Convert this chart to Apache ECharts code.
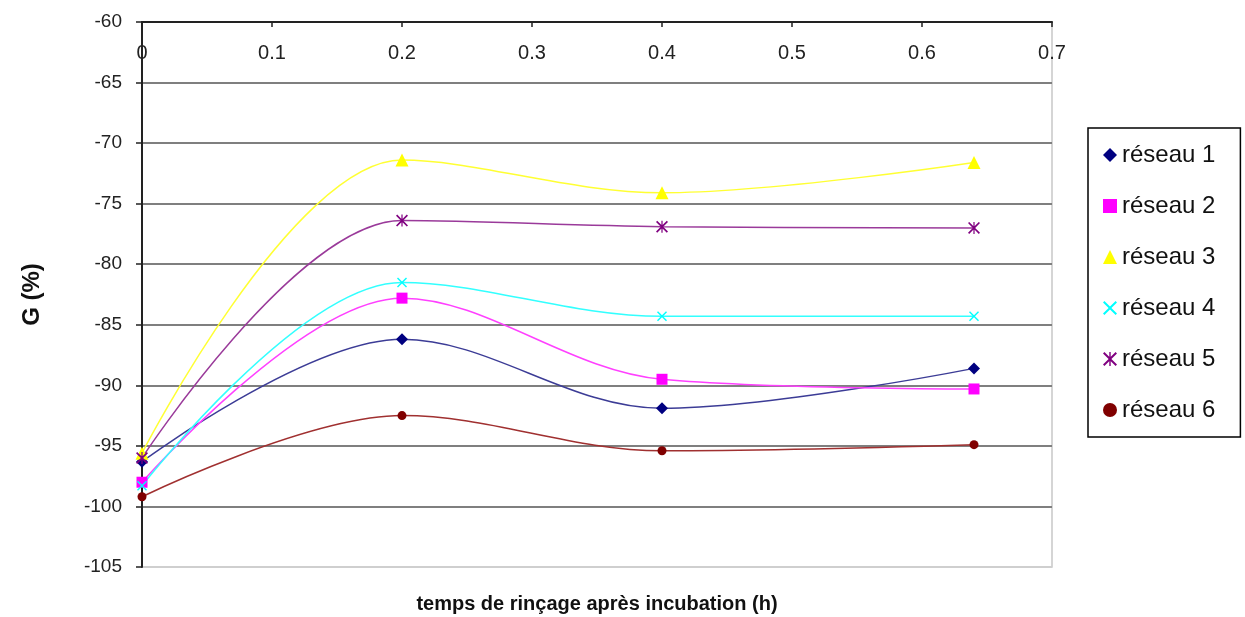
<!DOCTYPE html>
<html>
<head>
<meta charset="utf-8">
<script src="https://cdn.jsdelivr.net/npm/echarts@6/dist/echarts.min.js"></script>
<style>
html,body{margin:0;padding:0;background:#fff;}
#chart{width:1245px;height:617px;}
</style>
</head>
<body>
<div id="chart"></div>
<script>
// x positions (h)
const xValues = [0, 0.2, 0.4, 0.64];
const seriesNames = ['réseau 1', 'réseau 2', 'réseau 3', 'réseau 4', 'réseau 5', 'réseau 6'];
const reseau1 = [-96.3, -86.2, -91.9, -88.6];
const reseau2 = [-98.0, -82.8, -89.5, -90.3];
const reseau3 = [-95.6, -71.4, -74.1, -71.6];
const reseau4 = [-98.3, -81.5, -84.3, -84.3];
const reseau5 = [-96.0, -76.4, -76.9, -77.0];
const reseau6 = [-99.2, -92.5, -95.4, -94.9];
const yTicks = [-105, -100, -95, -90, -85, -80, -75, -70, -65, -60];
const xTicks = [0, 0.1, 0.2, 0.3, 0.4, 0.5, 0.6, 0.7];
const xTitle = 'temps de rinçage après incubation (h)';
const yTitle = 'G (%)';

const allValues = [reseau1, reseau2, reseau3, reseau4, reseau5, reseau6];
const colors = ['#000080', '#FF00FF', '#FFFF00', '#00FFFF', '#800080', '#800000'];
const lineColors = ['#3c3c96', '#FF40FF', '#FFFF33', '#33FFFF', '#9a3a9a', '#a03030'];
const xShape = 'path://M0,1L1,0L5,4L9,0L10,1L6,5L10,9L9,10L5,6L1,10L0,9L4,5Z';
const starShape = 'path://M0,1L1,0L5,4L9,0L10,1L6,5L10,9L9,10L5,6L1,10L0,9L4,5ZM4.5,0L5.5,0L5.5,10L4.5,10Z';
const symbols = ['diamond', 'rect', 'triangle', xShape, starShape, 'circle'];
const symbolSizes = [12, 11, 13, 10, 12, 9];

const series = seriesNames.map((name, i) => ({
  name: name,
  type: 'line',
  smooth: 0.35,
  data: xValues.map((x, j) => [x, allValues[i][j]]),
  symbol: symbols[i],
  symbolSize: symbolSizes[i],
  showSymbol: true,
  clip: false,
  lineStyle: { color: lineColors[i], width: 1.5 },
  itemStyle: { color: colors[i], borderColor: colors[i], borderWidth: 0 },
  emphasis: { disabled: true },
  z: 3
}));

const splitColors = yTicks.map((v, i) => i === 0 ? '#cfcfcf' : '#7f7f7f');

const chart = echarts.init(document.getElementById('chart'), null, { renderer: 'canvas' });
chart.setOption({
  animation: false,
  backgroundColor: '#ffffff',
  textStyle: { fontFamily: 'Liberation Sans, Arial, sans-serif' },
  grid: {
    left: 142, right: 193, top: 22, bottom: 50,
    outerBoundsMode: 'none',
    containLabel: false,
    show: true, borderColor: '#c8c8c8', borderWidth: 1.5, backgroundColor: 'transparent'
  },
  legend: {
    orient: 'vertical',
    left: 1088, top: 128,
    padding: [15, 25, 15, 15],
    itemGap: 27,
    itemWidth: 14, itemHeight: 14,
    borderColor: '#000', borderWidth: 1.5,
    backgroundColor: '#fff',
    textStyle: { fontSize: 24, color: '#111', lineHeight: 24, fontFamily: 'Liberation Sans, Arial, sans-serif' },
    data: seriesNames.map((n, i) => ({ name: n, icon: symbols[i] }))
  },
  xAxis: [{
    type: 'value', position: 'top', min: 0, max: 0.7, interval: 0.1,
    axisLine: { show: true, onZero: false, lineStyle: { color: '#222', width: 2 } },
    axisTick: { show: true, inside: true, length: 5, lineStyle: { color: '#222', width: 1.5 } },
    axisLabel: { inside: true, margin: 21, fontSize: 20, color: '#222',
      formatter: v => xTicks.includes(Math.round(v * 10) / 10) ? String(Math.round(v * 10) / 10) : '' },
    splitLine: { show: false }
  }, {
    type: 'value', position: 'bottom', min: 0, max: 0.7,
    axisLine: { show: false }, axisTick: { show: false }, axisLabel: { show: false },
    splitLine: { show: false },
    name: xTitle, nameLocation: 'middle', nameGap: 27,
    nameTextStyle: { fontSize: 20, fontWeight: 'bold', color: '#111' }
  }],
  yAxis: {
    type: 'value', min: -105, max: -60, interval: 5,
    axisLine: { show: true, onZero: false, lineStyle: { color: '#222', width: 2 } },
    axisTick: { show: true, inside: false, length: 6, lineStyle: { color: '#222', width: 1.5 } },
    axisLabel: { margin: 20, fontSize: 19, color: '#222' },
    splitLine: { show: true, lineStyle: { color: splitColors, width: 2 } },
    name: yTitle, nameLocation: 'middle', nameGap: 98, nameRotate: 90,
    nameTextStyle: { fontSize: 24, fontWeight: 'bold', color: '#111' }
  },
  series: series
});
</script>
</body>
</html>
